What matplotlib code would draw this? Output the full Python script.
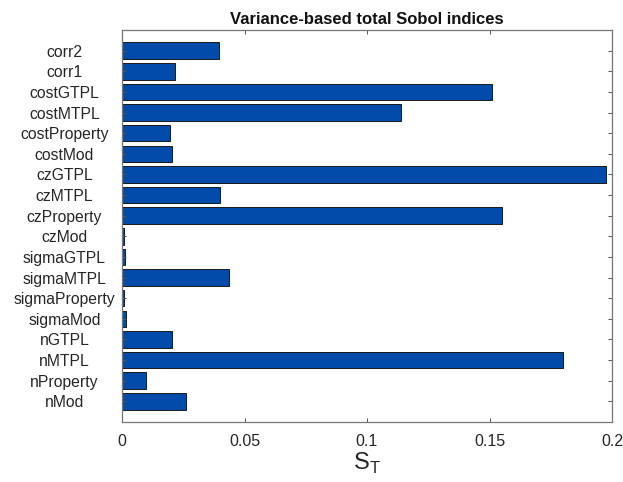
import matplotlib
matplotlib.use("Agg")
import matplotlib.pyplot as plt

categories = ["nMod", "nProperty", "nMTPL", "nGTPL", "sigmaMod", "sigmaProperty",
              "sigmaMTPL", "sigmaGTPL", "czMod", "czProperty", "czMTPL", "czGTPL",
              "costMod", "costProperty", "costMTPL", "costGTPL", "corr1", "corr2"]
values = [0.0262, 0.0099, 0.1800, 0.0206, 0.0015, 0.0008,
          0.0435, 0.0014, 0.0008, 0.1550, 0.0398, 0.1976,
          0.0205, 0.0194, 0.1140, 0.1510, 0.0217, 0.0394]
xticks = [0, 0.05, 0.1, 0.15, 0.2]
xticklabels = ["0", "0.05", "0.1", "0.15", "0.2"]

plt.rcParams['font.family'] = ['Liberation Sans', 'DejaVu Sans']

fig = plt.figure(figsize=(6.23, 4.82), dpi=100)
ax = fig.add_axes([122/623, 1 - 422/482, (612 - 122)/623, (422 - 30)/482])

pos = list(range(1, len(categories) + 1))
ax.barh(pos, values, height=0.8, color='#034bab', edgecolor='#1a1a1a', linewidth=0.7)

ax.set_xlim(0, 0.2)
ax.set_ylim(0, len(categories) + 1)
ax.set_yticks(pos)
ax.set_yticklabels(categories, fontsize=11.3, color='#262626', ha='center')
ax.set_xticks(xticks)
ax.set_xticklabels(xticklabels, fontsize=11.5, color='#262626')
ax.tick_params(axis='both', direction='in', top=True, right=True, length=3,
               color='#555555', width=0.7)
ax.tick_params(axis='x', pad=9)
ax.tick_params(axis='y', pad=41.5)
for s in ax.spines.values():
    s.set_color('#777777')
    s.set_linewidth(0.9)

ax.set_title("Variance-based total Sobol indices", fontsize=12, fontweight='bold',
             color='#111111', pad=4)
ax.set_xlabel(r"S$_\mathregular{T}$", fontsize=17, color='#262626', labelpad=1)

fig.savefig("out.png", dpi=100)
